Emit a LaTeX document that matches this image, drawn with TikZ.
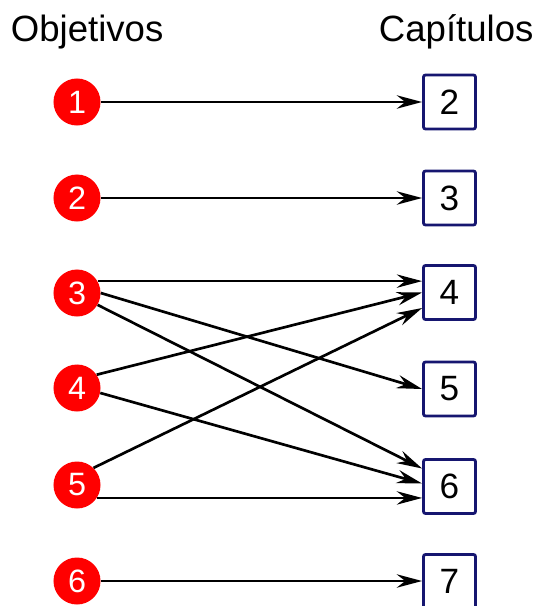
\documentclass[tikz,border=0pt]{standalone}
\usepackage{fontspec}
\setmainfont{Liberation Sans}
\usetikzlibrary{arrows.meta, calc}
\definecolor{boxblue}{RGB}{22,22,112}

\begin{document}
\begin{tikzpicture}[x=0.025cm, y=-0.025cm, >={Stealth[length=18pt, width=9.5pt, inset=6pt]},
  goal/.style={circle, fill=red, text=white, inner sep=0pt, minimum size=1.175cm, font=\fontsize{23}{23}\selectfont},
  chapter/.style={draw=boxblue, line width=2pt, rounded corners=1.5pt, fill=white, inner sep=0pt, minimum width=1.3cm, minimum height=1.35cm, font=\fontsize{25}{25}\selectfont},
  link/.style={->, line width=1.9pt}]
  \clip (0,0) rectangle (538,606);
  \node[anchor=base west, font=\fontsize{26}{26}\selectfont] (title-goals) at (6,41) {Objetivos};
  \node[anchor=base west, font=\fontsize{26}{26}\selectfont] (title-chapters) at (374,41) {Capítulos};
  \node[goal] (o1) at (77,102) {1};
  \node[goal] (o2) at (77,198) {2};
  \node[goal] (o3) at (77,293) {3};
  \node[goal] (o4) at (77,388) {4};
  \node[goal] (o5) at (77,485) {5};
  \node[goal] (o6) at (77,581) {6};
  \node[chapter] (c2) at (449.5,102) {2};
  \node[chapter] (c3) at (449.5,198) {3};
  \node[chapter] (c4) at (449.5,292.5) {4};
  \node[chapter] (c5) at (449.5,389) {5};
  \node[chapter] (c6) at (449.5,486.5) {6};
  \node[chapter] (c7) at (449.5,581.5) {7};
  \draw[link] (o1.east) -- (c2.west);
  \draw[link] (o2.east) -- (c3.west);
  \draw[link] (o3.30) -- (c4.west |- o3.30);
  \draw[link] (o3.east) -- (c5.west);
  \draw[link] (o3.-30) -- ($(c6.west)+(0,-18)$);
  \draw[link] (o4.34) -- (c4.west);
  \draw[link] (o4.-12) -- ($(c6.west)+(0,-3)$);
  \draw[link] (o5.46) -- ($(c4.west)+(0,15.5)$);
  \draw[link] (o5.-33) -- (c6.west |- o5.-33);
  \draw[link] (o6.east) -- (c7.west |- o6.east);
\end{tikzpicture}
\end{document}
